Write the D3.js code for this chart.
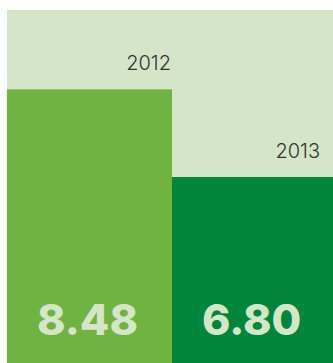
<!DOCTYPE html>
<html>
<head>
<meta charset="utf-8">
<script src="https://cdn.jsdelivr.net/npm/d3@7"></script>
<style>
  html, body { margin: 0; padding: 0; background: #fff; overflow: hidden; }
  svg { display: block; }
</style>
</head>
<body>
<div id="chart"></div>
<script>
// data
const years = ['2012', '2013']
const values = [8.48, 6.80]
const barColors = ['#6fb440', '#00853a']

const width = 333
const height = 363
const bg = '#d5e6c8'

const svg = d3.select('#chart').append('svg')
  .attr('width', width)
  .attr('height', height)

// background panel
svg.append('rect')
  .attr('x', 7)
  .attr('y', 10)
  .attr('width', width - 7)
  .attr('height', height - 10)
  .attr('fill', bg)

// second band runs a little past the right edge of the window
const x = d3.scaleBand()
  .domain(years)
  .range([7, 337])
  .paddingInner(0)
  .paddingOuter(0)

// scale runs past the bottom of the window (bars are cropped)
const y = d3.scaleLinear()
  .domain([0, 10])
  .range([532, 10])

svg.selectAll('rect.bar')
  .data(values)
  .enter()
  .append('rect')
  .attr('class', 'bar')
  .attr('x', (d, i) => x(years[i]))
  .attr('y', d => y(d))
  .attr('width', x.bandwidth())
  .attr('height', d => y(0) - y(d))
  .attr('fill', (d, i) => barColors[i])

// year labels above the bars
const labelInset = [1, 17]
svg.selectAll('text.year')
  .data(values)
  .enter()
  .append('text')
  .attr('class', 'year')
  .attr('x', (d, i) => x(years[i]) + x.bandwidth() - labelInset[i])
  .attr('y', d => y(d) - 19)
  .attr('text-anchor', 'end')
  .attr('font-family', 'Inter, sans-serif')
  .attr('font-weight', 300)
  .attr('font-size', 20)
  .attr('fill', '#333')
  .text((d, i) => years[i])

// big values at the bottom
svg.selectAll('text.value')
  .data(values)
  .enter()
  .append('text')
  .attr('class', 'value')
  .attr('x', (d, i) => x(years[i]) + 30)
  .attr('y', 335)
  .attr('text-anchor', 'start')
  .attr('font-family', 'Inter, sans-serif')
  .attr('font-weight', 800)
  .attr('font-size', 43)
  .attr('fill', bg)
  .text(d => d3.format('.2f')(d))
</script>
</body>
</html>
